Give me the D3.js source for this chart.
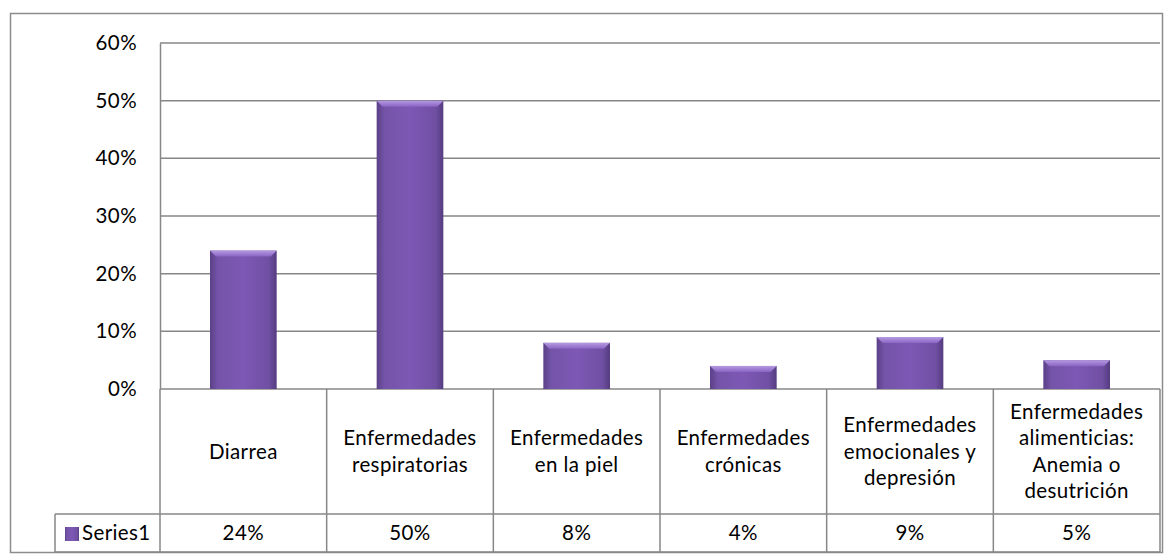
<!DOCTYPE html>
<html>
<head>
<meta charset="utf-8">
<script src="https://cdn.jsdelivr.net/npm/d3@7"></script>
<style>
body { margin: 0; background: #fff; }
svg text { font-family: Lato, "Open Sans", sans-serif; fill: #000; letter-spacing: 0.4px; }
</style>
</head>
<body>
<div id="container"></div>
<script>
// chart data
var categories = ["Diarrea", "Enfermedades respiratorias", "Enfermedades en la piel",
  "Enfermedades crónicas", "Enfermedades emocionales y depresión",
  "Enfermedades alimenticias: Anemia o desutrición"];
var catLines = [["Diarrea"], ["Enfermedades", "respiratorias"], ["Enfermedades", "en la piel"],
  ["Enfermedades", "crónicas"], ["Enfermedades", "emocionales y", "depresión"],
  ["Enfermedades", "alimenticias:", "Anemia o", "desutrición"]];
var values = [0.24, 0.50, 0.08, 0.04, 0.09, 0.05];
var valueLabels = ["24%", "50%", "8%", "4%", "9%", "5%"];
var yTicks = [0, 0.1, 0.2, 0.3, 0.4, 0.5, 0.6];
var seriesName = "Series1";

var W = 1174, H = 556;
var plot = {left: 160, right: 1160, top: 43, bottom: 389};
var tableBottom = 514, rowBottom = 552, legendLeft = 55;
var grid = "#878787";
var fs = "20.5px";

var svg = d3.select("#container").append("svg")
  .attr("width", W).attr("height", H);

var defs = svg.append("defs");
var grad = defs.append("linearGradient").attr("id", "barGrad")
  .attr("x1", "0%").attr("x2", "100%").attr("y1", "0%").attr("y2", "0%");
grad.append("stop").attr("offset", "0%").attr("stop-color", "#5b4088");
grad.append("stop").attr("offset", "12%").attr("stop-color", "#7454a8");
grad.append("stop").attr("offset", "50%").attr("stop-color", "#7d58b5");
grad.append("stop").attr("offset", "88%").attr("stop-color", "#7050a3");
grad.append("stop").attr("offset", "100%").attr("stop-color", "#553c80");
var topGrad = defs.append("linearGradient").attr("id", "topGrad")
  .attr("x1", "0%").attr("x2", "0%").attr("y1", "0%").attr("y2", "100%");
topGrad.append("stop").attr("offset", "0%").attr("stop-color", "#b59ae0");
topGrad.append("stop").attr("offset", "100%").attr("stop-color", "#8a64c4");

// outer frame
svg.append("rect")
  .attr("x", 10.5).attr("y", 13.5).attr("width", 1152).attr("height", 539)
  .attr("fill", "none").attr("stroke", "#8c8c8c").attr("stroke-width", 1.5);

var x = d3.scaleBand().domain(categories).range([plot.left, plot.right]).paddingInner(0).paddingOuter(0);
var y = d3.scaleLinear().domain([0, 0.6]).range([plot.bottom, plot.top]);

// gridlines
svg.append("g").selectAll("line").data(yTicks).enter().append("line")
  .attr("x1", plot.left).attr("x2", plot.right)
  .attr("y1", function(d) { return y(d); }).attr("y2", function(d) { return y(d); })
  .attr("stroke", grid).attr("stroke-width", 1.5);

// y axis labels
var yAxis = d3.axisLeft(y).tickValues(yTicks).tickFormat(d3.format(".0%")).tickSize(0).tickPadding(23);
var ya = svg.append("g").attr("transform", "translate(" + plot.left + ",0)").call(yAxis);
ya.select(".domain").attr("stroke", grid).attr("stroke-width", 1.5);
ya.selectAll("text").style("font-size", fs).style("font-family", "Lato, sans-serif");

// bars
var bw = x.bandwidth() * 0.4;
var bars = svg.append("g").selectAll("g").data(values).enter().append("g");
bars.append("rect")
  .attr("x", function(d, i) { return x(categories[i]) + (x.bandwidth() - bw) / 2; })
  .attr("y", function(d) { return y(d); })
  .attr("width", bw)
  .attr("height", function(d) { return y(0) - y(d); })
  .attr("fill", "url(#barGrad)");
bars.append("path")
  .attr("d", function(d, i) {
    var x0 = x(categories[i]) + (x.bandwidth() - bw) / 2, y0 = y(d), b = 6;
    return "M" + x0 + "," + y0 + "L" + (x0 + bw) + "," + y0 +
      "L" + (x0 + bw - b) + "," + (y0 + b) + "L" + (x0 + b) + "," + (y0 + b) + "Z";
  })
  .attr("fill", "url(#topGrad)");

// data table
var t = svg.append("g").attr("stroke", grid).attr("stroke-width", 1.5);
t.append("line").attr("x1", legendLeft).attr("x2", plot.right).attr("y1", tableBottom).attr("y2", tableBottom);
t.append("line").attr("x1", legendLeft).attr("x2", plot.right).attr("y1", rowBottom).attr("y2", rowBottom);
t.append("line").attr("x1", legendLeft).attr("x2", legendLeft).attr("y1", tableBottom).attr("y2", rowBottom);
t.append("line").attr("x1", plot.left).attr("x2", plot.left).attr("y1", plot.bottom).attr("y2", rowBottom);
t.selectAll(".col").data(categories).enter().append("line")
  .attr("x1", function(d) { return x(d) + x.bandwidth(); })
  .attr("x2", function(d) { return x(d) + x.bandwidth(); })
  .attr("y1", plot.bottom).attr("y2", rowBottom);

var lh = 26.5;
var midCat = (plot.bottom + tableBottom) / 2;
svg.append("g").selectAll("text").data(catLines).enter().append("text")
  .attr("text-anchor", "middle")
  .style("font-size", fs)
  .each(function(lines, i) {
    var cx = x(categories[i]) + x.bandwidth() / 2;
    var y0 = midCat - (lines.length - 1) * lh / 2 + 7;
    d3.select(this).selectAll("tspan").data(lines).enter().append("tspan")
      .attr("x", cx).attr("y", function(d, j) { return y0 + j * lh; })
      .text(function(d) { return d; });
  });

var midRow = (tableBottom + rowBottom) / 2 + 7;
svg.append("g").selectAll("text").data(valueLabels).enter().append("text")
  .attr("x", function(d, i) { return x(categories[i]) + x.bandwidth() / 2; })
  .attr("y", midRow).attr("text-anchor", "middle").style("font-size", fs)
  .text(function(d) { return d; });

// legend key
svg.append("rect").attr("x", 65).attr("y", 527).attr("width", 14).attr("height", 14)
  .attr("fill", "url(#barGrad)");
svg.append("text").attr("x", 82).attr("y", midRow).style("font-size", fs).text(seriesName);
</script>
</body>
</html>
